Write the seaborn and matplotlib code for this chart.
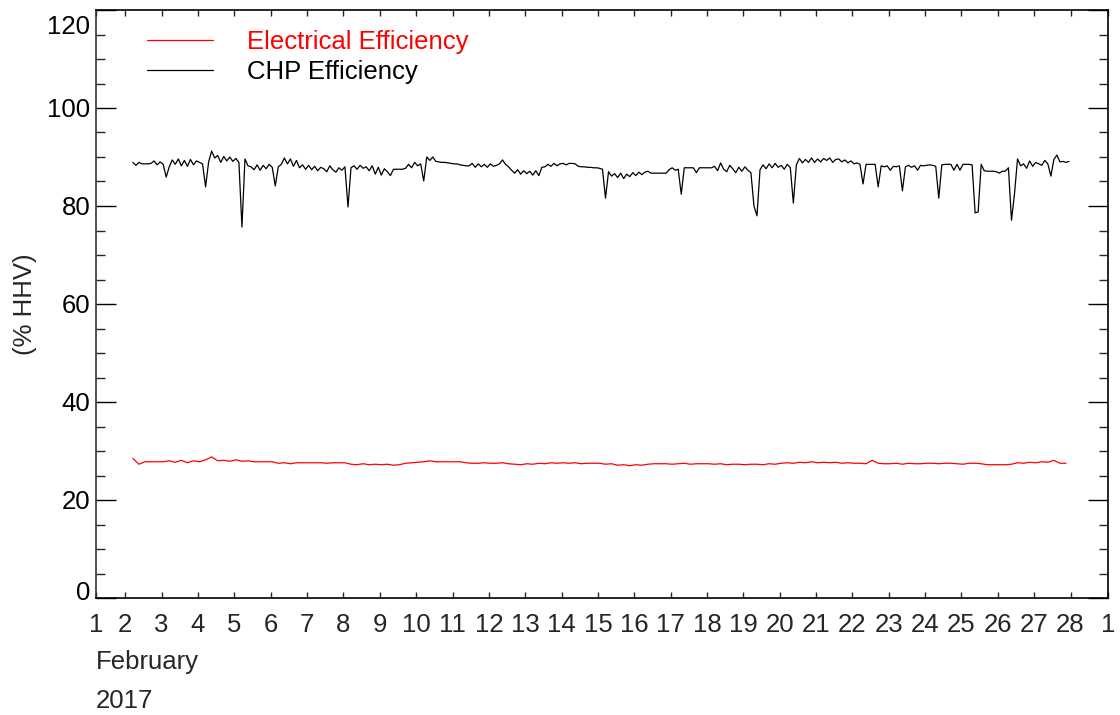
import numpy as np
import pandas as pd
import matplotlib
matplotlib.use("Agg")
import matplotlib.pyplot as plt
import matplotlib.transforms as mtransforms
import seaborn as sns

# ---------------- data ----------------
# CHP efficiency, 2-hourly from 2017-02-02 05:00
chp_start = "2017-02-02 05:00"
chp_values = [
    88.9, 88.3, 88.9, 88.6, 88.6, 88.6, 88.7, 89.2, 88.4, 89.0, 88.5, 85.9,
    88.0, 89.4, 88.5, 89.6, 88.2, 89.3, 88.1, 89.5, 88.4, 89.2, 88.9, 88.6,
    83.9, 89.0, 91.2, 89.8, 90.3, 88.9, 90.1, 89.2, 90.0, 89.1, 89.7, 88.9,
    75.7, 89.6, 88.2, 88.0, 87.4, 88.4, 87.3, 88.3, 87.6, 88.5, 87.9, 84.1,
    88.0, 88.5, 89.8, 88.6, 89.6, 88.1, 89.3, 87.8, 88.4, 87.5, 88.3, 87.4,
    88.1, 87.2, 87.9, 87.6, 87.0, 88.2, 87.4, 86.9, 87.8, 87.3, 88.0, 79.8,
    87.8, 88.2, 87.5, 88.3, 87.7, 88.0, 87.2, 88.2, 86.5, 87.9, 86.3, 87.6,
    87.0, 86.2, 87.5, 87.5, 87.5, 87.5, 87.7, 88.5, 87.8, 88.9, 88.2, 88.6,
    85.1, 90.0, 89.3, 90.0, 89.1, 89.0, 88.9, 88.9, 88.8, 88.7, 88.6, 88.6,
    88.4, 88.3, 88.2, 88.2, 88.7, 87.9, 88.6, 88.0, 88.5, 87.9, 88.6, 88.1,
    88.3, 88.6, 89.4, 88.5, 88.0, 87.3, 86.7, 87.4, 86.5, 87.2, 86.6, 87.1,
    86.3, 87.2, 86.2, 87.9, 88.0, 88.5, 88.1, 88.7, 88.2, 88.6, 88.7, 88.4,
    88.7, 88.7, 88.6, 88.1, 88.0, 88.0, 87.9, 87.9, 87.8, 87.8, 87.7, 87.5,
    81.6, 87.0, 86.1, 86.6, 85.8, 86.7, 85.6, 86.5, 86.0, 86.8, 86.2, 86.9,
    86.4, 86.9, 87.1, 86.7, 86.7, 86.7, 86.7, 86.7, 86.7, 87.4, 87.8, 87.3,
    87.5, 82.4, 87.8, 87.8, 87.8, 87.8, 86.8, 87.8, 87.8, 87.8, 87.8, 87.8,
    88.1, 87.2, 88.8, 87.5, 87.0, 88.3, 87.6, 86.8, 87.9, 87.1, 88.0, 87.3,
    86.8, 80.0, 78.0, 87.4, 88.4, 87.6, 88.6, 87.8, 88.7, 87.9, 88.3, 87.5,
    88.5, 87.8, 80.6, 88.4, 89.7, 88.8, 89.5, 88.9, 89.8, 88.9, 89.6, 89.0,
    89.7, 89.3, 89.8, 88.9, 89.5, 89.6, 89.0, 89.4, 88.8, 89.2, 88.6, 88.8,
    88.5, 84.5, 88.5, 88.5, 88.5, 88.5, 83.9, 88.2, 88.0, 88.2, 87.3, 88.1,
    88.0, 88.2, 83.1, 88.0, 88.3, 87.9, 88.2, 87.3, 88.3, 88.2, 88.3, 88.4,
    88.3, 88.1, 81.6, 88.4, 88.5, 88.5, 88.5, 87.3, 88.5, 87.3, 88.5, 88.5,
    88.5, 88.4, 78.6, 78.8, 88.5, 87.2, 87.1, 87.1, 87.1, 87.0, 86.7, 87.1,
    87.1, 87.8, 77.1, 82.5, 89.6, 88.2, 88.6, 87.7, 89.2, 88.1, 88.9, 88.6,
    88.3, 89.3, 88.6, 86.1, 89.5, 90.4, 89.0, 89.1, 88.9, 89.1,
]

# Electrical efficiency, 4-hourly from 2017-02-02 05:00
elec_start = "2017-02-02 05:00"
elec_values = [
    28.5, 27.3, 27.8, 27.8, 27.8, 27.8,
    28.0, 27.7, 28.1, 27.6, 28.0, 27.8,
    28.2, 28.8, 28.0, 28.1, 27.9, 28.2,
    27.9, 28.0, 27.8, 27.8, 27.8, 27.8,
    27.5, 27.6, 27.4, 27.6, 27.6, 27.6,
    27.6, 27.6, 27.5, 27.6, 27.6, 27.6,
    27.3, 27.2, 27.4, 27.2, 27.3, 27.2,
    27.3, 27.1, 27.2, 27.5, 27.6, 27.7,
    27.8, 28.0, 27.8, 27.8, 27.8, 27.8,
    27.8, 27.6, 27.5, 27.5, 27.6, 27.5,
    27.5, 27.6, 27.4, 27.3, 27.2, 27.4,
    27.3, 27.5, 27.4, 27.6, 27.5, 27.6,
    27.5, 27.6, 27.4, 27.5, 27.5, 27.5,
    27.3, 27.4, 27.1, 27.2, 27.0, 27.2,
    27.1, 27.3, 27.4, 27.4, 27.4, 27.3,
    27.4, 27.5, 27.3, 27.4, 27.4, 27.4,
    27.3, 27.4, 27.2, 27.3, 27.3, 27.2,
    27.3, 27.3, 27.2, 27.4, 27.3, 27.5,
    27.6, 27.5, 27.7, 27.6, 27.8, 27.6,
    27.7, 27.6, 27.7, 27.5, 27.6, 27.5,
    27.5, 27.4, 28.1, 27.5, 27.4, 27.4,
    27.5, 27.3, 27.5, 27.4, 27.4, 27.5,
    27.5, 27.4, 27.5, 27.5, 27.4, 27.3,
    27.5, 27.5, 27.4, 27.2, 27.2, 27.2,
    27.2, 27.3, 27.6, 27.5, 27.7, 27.6,
    27.8, 27.7, 28.1, 27.5, 27.5,
]

x_tick_days = list(range(2, 29))
x_tick_labels = [str(d) for d in x_tick_days]
y_ticks = [0, 20, 40, 60, 80, 100, 120]
series_names = ["Electrical Efficiency", "CHP Efficiency"]
series_colors = ["#ff0000", "#000000"]


def to_day(ts):
    return ts.day + ts.hour / 24.0 + ts.minute / 1440.0


chp_t = pd.date_range(chp_start, periods=len(chp_values), freq="2h")
elec_t = pd.date_range(elec_start, periods=len(elec_values), freq="4h")
df = pd.concat([
    pd.DataFrame({"day": to_day(elec_t), "val": elec_values, "series": series_names[0]}),
    pd.DataFrame({"day": to_day(chp_t), "val": chp_values, "series": series_names[1]}),
], ignore_index=True)

# ---------------- plot ----------------
sns.set_theme(style="ticks")
plt.rcParams["font.family"] = ["Liberation Sans", "DejaVu Sans"]
FS = 18.5

fig = plt.figure(figsize=(11.2, 7.15), dpi=100)
ax = fig.add_axes([96 / 1120, 1 - 598 / 715, (1108 - 96) / 1120, (598 - 10) / 715])

sns.lineplot(data=df, x="day", y="val", hue="series", hue_order=series_names,
             palette=series_colors, linewidth=0.9, ax=ax, estimator=None,
             sort=False)

xmin, xmax = 1.194, 29.03
ax.set_xlim(xmin, xmax)
ax.set_ylim(0, 120)

ax.set_xticks([xmin] + x_tick_days + [xmax])
ax.set_xticklabels(["1"] + x_tick_labels + ["1"])
ax.set_yticks(y_ticks)
ax.set_yticklabels([str(v) for v in y_ticks])
ax.set_yticks(np.arange(0, 121, 5), minor=True)

ax.tick_params(axis="y", which="major", direction="in", length=14.4, width=1,
               left=True, right=True, labelsize=FS, pad=4, colors="black")
ax.tick_params(axis="y", which="minor", direction="in", length=6.5, width=1,
               left=True, right=True)
ax.tick_params(axis="x", which="major", direction="in", length=4, width=1,
               bottom=True, top=True, labelsize=FS, pad=10.5)
ax.tick_params(axis="x", which="minor", bottom=False, top=False)

for name, s in ax.spines.items():
    s.set_visible(True)
    s.set_linewidth(1.2)
    s.set_color("#333333" if name == "left" else "black")

# IDL-style: shift end labels inward
ylabels = ax.get_yticklabels()
ylabels[0].set_transform(ylabels[0].get_transform() +
                         mtransforms.ScaledTranslation(0, 7 / 100, fig.dpi_scale_trans))
ylabels[-1].set_transform(ylabels[-1].get_transform() +
                          mtransforms.ScaledTranslation(0, -14 / 100, fig.dpi_scale_trans))

ax.set_xlabel("")
ax.set_ylabel("(% HHV)", fontsize=FS)
ax.yaxis.set_label_coords((37 - 96) / 1012, 0.5)

ax.text(0.0, -(662 - 598) / 588, "February", transform=ax.transAxes, fontsize=FS,
        ha="left", va="center")
ax.text(0.0, -(701 - 598) / 588, "2017", transform=ax.transAxes, fontsize=FS,
        ha="left", va="center")

leg = ax.legend(loc="upper left", bbox_to_anchor=(0.034, 0.994), frameon=False,
                fontsize=FS, handlelength=2.55, handletextpad=1.35,
                labelspacing=0.22, borderaxespad=0.25)
for txt, c in zip(leg.get_texts(), series_colors):
    txt.set_color(c)
for h in leg.get_lines():
    h.set_linewidth(0.9)

fig.savefig("out.png", dpi=100)
